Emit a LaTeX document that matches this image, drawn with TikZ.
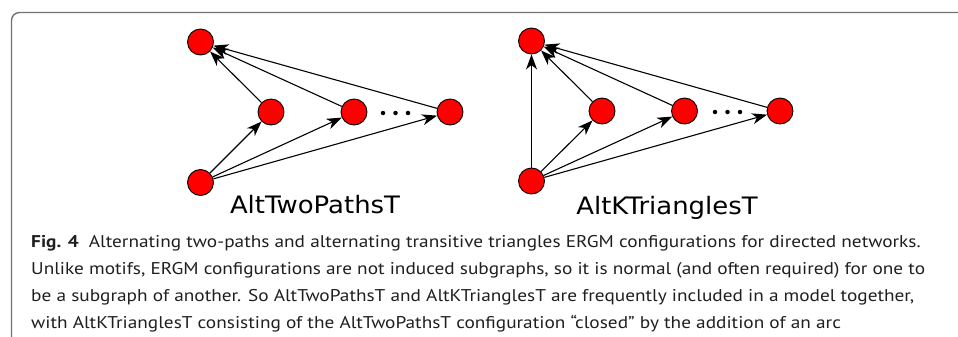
\documentclass[tikz,border=0pt]{standalone}
\usepackage{fontspec}
\setmainfont[FakeStretch=1.135]{PT Sans}
\newfontfamily\labelfont[FakeStretch=1.08]{DejaVu Sans}
\usetikzlibrary{arrows.meta}
\begin{document}
\begin{tikzpicture}[x=1pt,y=-1pt,
 vtx/.style={circle,draw=black,line width=0.9pt,fill=red,minimum size=26pt,inner sep=0pt},
 arc/.style={-{Stealth[length=15pt,width=11pt,inset=4.5pt]},line width=1.1pt},
 dotn/.style={circle,fill=black,minimum size=4.5pt,inner sep=0pt},
 lbl/.style={font=\labelfont\fontsize{24}{28}\selectfont,anchor=base,inner sep=0pt},
 captxt/.style={anchor=base west,inner sep=0pt,font=\fontsize{17}{20}\selectfont,text=black!88}]
\useasboundingbox (0,0) rectangle (958,337);
\draw[black!55, line width=1.4pt, rounded corners=8pt] (11.5,345) -- (11.5,12.5) -- (970,12.5);
% left graph
\node[vtx] (lT) at (200.5,42) {};
\node[vtx] (lM1) at (271,112) {};
\node[vtx] (lM2) at (354,112) {};
\node[vtx] (lR) at (450,112) {};
\node[vtx] (lB) at (200.5,182.5) {};
\node[dotn] (ld1) at (383,113) {};
\node[dotn] (ld2) at (395.5,113) {};
\node[dotn] (ld3) at (408,113) {};
\draw[arc] (lB) -- (lM1);
\draw[arc] (lB) -- (lM2);
\draw[arc] (lB) -- (lR);
\draw[arc] (lM1) -- (lT);
\draw[arc] (lM2) -- (lT);
\draw[arc] (lR) -- (lT);
\node[lbl] (l1) at (315,213) {AltTwoPathsT};
% right graph
\node[vtx] (rT) at (531.5,41) {};
\node[vtx] (rM1) at (602,111) {};
\node[vtx] (rM2) at (684.5,111) {};
\node[vtx] (rR) at (780,111) {};
\node[vtx] (rB) at (531.5,181) {};
\node[dotn] (rd1) at (715,112) {};
\node[dotn] (rd2) at (727.5,112) {};
\node[dotn] (rd3) at (740,112) {};
\draw[arc] (rB) -- (rT);
\draw[arc] (rB) -- (rM1);
\draw[arc] (rB) -- (rM2);
\draw[arc] (rB) -- (rR);
\draw[arc] (rM1) -- (rT);
\draw[arc] (rM2) -- (rT);
\draw[arc] (rR) -- (rT);
\node[lbl] (l2) at (667,214) {AltKTrianglesT};
% caption
\node[captxt] (c1) at (31,247) {\textbf{Fig. 4}\hspace{0.6em}Alternating two-paths and alternating transitive triangles ERGM configurations for directed networks.};
\node[captxt] (c2) at (31,274.5) {Unlike motifs, ERGM configurations are not induced subgraphs, so it is normal (and often required) for one to};
\node[captxt] (c3) at (31,301.5) {be a subgraph of another. So AltTwoPathsT and AltKTrianglesT are frequently included in a model together,};
\node[captxt] (c4) at (31,328) {with AltKTrianglesT consisting of the AltTwoPathsT configuration “closed” by the addition of an arc};
\end{tikzpicture}
\end{document}
